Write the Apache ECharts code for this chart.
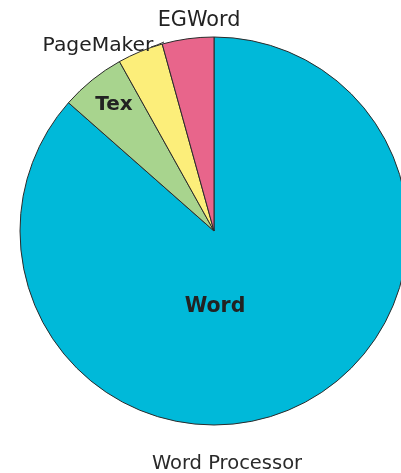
<!DOCTYPE html>
<html>
<head>
<meta charset="utf-8">
<script src="https://cdn.jsdelivr.net/npm/echarts@6/dist/echarts.min.js"></script>
<style>
html,body{margin:0;padding:0;background:#fff;}
#chart{width:401px;height:473px;}
</style>
</head>
<body>
<div id="chart"></div>
<script>
// Data
var categories = ['Word', 'Tex', 'PageMaker', 'EGWord'];
var shares = [86.5, 5.4, 3.8, 4.3];
var sliceColors = ['#00b9d9', '#a8d48e', '#fcee7a', '#e8658b'];
var chartTitle = 'Word Processor';

// label placement (pixel centers), style only
var labelPos = {
  'Word': [215, 307, 'bold', 20.5],
  'Tex': [114, 105, 'bold', 20],
  'PageMaker': [98, 46, 'normal', 20.3],
  'EGWord': [199, 21, 'normal', 20.8]
};

var chart = echarts.init(document.getElementById('chart'), null, {renderer: 'canvas'});

var seriesData = categories.map(function (c, i) {
  var lp = labelPos[c];
  return {
    name: c,
    value: shares[i],
    itemStyle: {color: sliceColors[i]},
    label: {fontWeight: lp[2], fontSize: lp[3], position: c === 'PageMaker' ? 'outside' : 'inside'},
    labelLine: {show: c === 'PageMaker', lineStyle: {color: '#333', width: 1}}
  };
});

chart.setOption({
  backgroundColor: '#ffffff',
  animation: false,
  title: {
    text: chartTitle,
    left: 222,
    top: 459,
    textAlign: 'center',
    textVerticalAlign: 'middle',
    textStyle: {
      fontFamily: 'DejaVu Sans',
      fontSize: 19.5,
      fontWeight: 'normal',
      color: '#2a2a2a'
    }
  },
  series: [{
    type: 'pie',
    center: [214, 231],
    radius: [0, 194],
    startAngle: 90,
    clockwise: true,
    avoidLabelOverlap: false,
    itemStyle: {borderColor: '#2b2b2b', borderWidth: 1},
    label: {
      show: true,
      formatter: '{b}',
      fontFamily: 'DejaVu Sans',
      color: '#222222'
    },
    emphasis: {disabled: true},
    labelLayout: function (params) {
      var name = categories[params.dataIndex];
      var lp = labelPos[name];
      var out = {x: lp[0], y: lp[1], align: 'center', verticalAlign: 'middle'};
      if (name === 'PageMaker') {
        out.labelLinePoints = [[151, 47], [157, 45], [164, 42]];
      }
      return out;
    },
    data: seriesData
  }]
});
</script>
</body>
</html>
